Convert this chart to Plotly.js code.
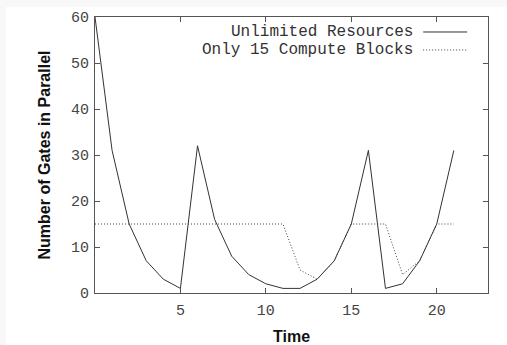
<!DOCTYPE html>
<html>
<head>
<meta charset="utf-8">
<script src="https://cdn.plot.ly/plotly-3.0.1.min.js"></script>
<style>
  html, body { margin: 0; padding: 0; background: #f8f8f8; width: 507px; height: 345px; overflow: hidden; }
  #chart { position: absolute; left: 6px; top: 7px; width: 501px; height: 338px; background: #ffffff; }
</style>
</head>
<body>
<div id="chart"></div>
<script>
const time = [0,1,2,3,4,5,6,7,8,9,10,11,12,13,14,15,16,17,18,19,20,21];
const unlimited = [60,31,15,7,3,1,32,16,8,4,2,1,1,3,7,15,31,1,2,7,15,31];
const limited15 = [15,15,15,15,15,15,15,15,15,15,15,15,5,3,7,15,15,15,4,7,15,15];
const seriesNames = ['Unlimited Resources', 'Only 15 Compute Blocks'];
const xTicks = [5,10,15,20];
const yTicks = [0,10,20,30,40,50,60];

const mono = 'Liberation Mono, Courier New, monospace';
const sans = 'Liberation Sans, Arial, sans-serif';

const traces = [
  {x: time, y: unlimited, name: seriesNames[0], mode: 'lines', type: 'scatter',
   line: {color: '#333333', width: 1}},
  {x: time, y: limited15, name: seriesNames[1], mode: 'lines', type: 'scatter',
   line: {color: '#444444', width: 1, dash: '1px,2px'}}
];

const axisCommon = {
  showgrid: false, zeroline: false, showline: true, linecolor: '#555555', linewidth: 1,
  mirror: 'ticks', ticks: 'inside', ticklen: 5, tickcolor: '#555555', tickwidth: 1,
  tickfont: {family: mono, size: 15, color: '#444444'}, automargin: false
};

const layout = {
  width: 501, height: 338,
  margin: {l: 89, r: 19.3, t: 10, b: 51.7},
  paper_bgcolor: '#ffffff', plot_bgcolor: '#ffffff',
  showlegend: false,
  xaxis: Object.assign({}, axisCommon, {
    range: [0, 23], tickvals: xTicks, ticktext: xTicks.map(String), ticklabelstandoff: 3,
    title: {text: 'Time', font: {family: sans, size: 16, color: '#111111', weight: 'bold'}, standoff: 12}
  }),
  yaxis: Object.assign({}, axisCommon, {
    range: [0, 60], tickvals: yTicks, ticktext: yTicks.map(String), ticklabelstandoff: 2,
    title: {text: 'Number of Gates in Parallel', font: {family: sans, size: 16, color: '#111111', weight: 'bold'}, standoff: 16}
  }),
  annotations: seriesNames.map((n, i) => ({
    xref: 'paper', yref: 'paper', x: 0.813, y: [0.9457, 0.8806][i],
    xanchor: 'right', yanchor: 'middle', showarrow: false, text: n,
    font: {family: mono, size: 16, color: '#333333'}
  })),
  shapes: [
    {type: 'line', xref: 'paper', yref: 'paper', x0: 0.835, x1: 0.947, y0: 0.9457, y1: 0.9457,
     line: {color: '#333333', width: 1}},
    {type: 'line', xref: 'paper', yref: 'paper', x0: 0.835, x1: 0.947, y0: 0.8806, y1: 0.8806,
     line: {color: '#444444', width: 1, dash: '1px,2px'}}
  ]
};

Plotly.newPlot('chart', traces, layout, {displayModeBar: false, staticPlot: true});
</script>
</body>
</html>
